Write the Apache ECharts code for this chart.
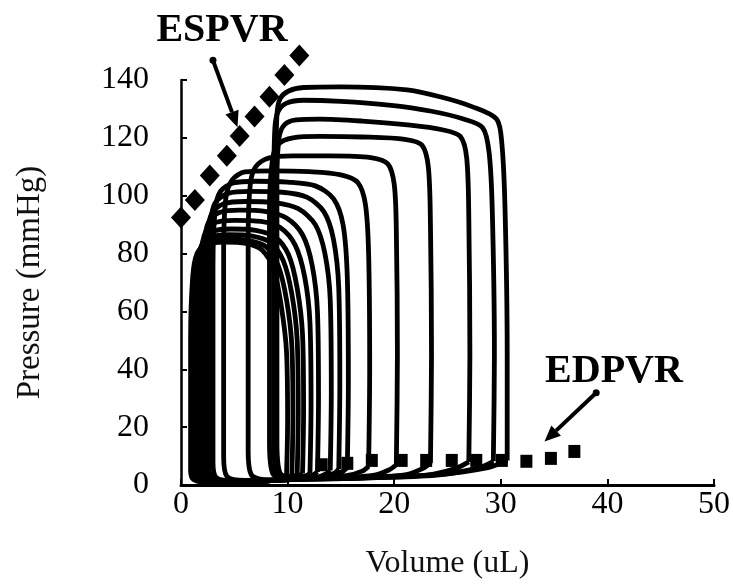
<!DOCTYPE html>
<html>
<head>
<meta charset="utf-8">
<script src="https://cdn.jsdelivr.net/npm/echarts@6/dist/echarts.min.js"></script>
<style>
  html, body { margin: 0; padding: 0; background: #fff; }
  #chart { width: 733px; height: 585px; }
</style>
</head>
<body>
<div id="chart"></div>
<script>
// Pressure-volume loops during preload reduction, [volume uL, pressure mmHg]
const loop1 = [[30.6,8.5],[30.6,45],[30.4,95],[30.1,118],[29.6,126.5],[27.3,130.8],[24.3,134.2],[21.2,136.6],[15,137.6],[11.5,137.4],[10.1,136.2],[9.3,133.5],[9.0,128],[8.9,105],[8.9,55],[8.9,18],[9.2,4.5],[10.8,2.2],[17,2.6],[24,3.6],[28.8,6],[30.6,8.5]];
const loop2 = [[29.3,8.2],[29.4,45],[29.2,95],[28.9,115],[28.3,123.5],[26.5,126.5],[23.5,129.2],[19.5,131.3],[15,132.6],[11.5,133],[9.9,132],[9.1,129],[8.8,123],[8.7,100],[8.7,50],[8.7,15],[9.0,4],[10.6,2],[17,2.4],[24,3.4],[28,6],[29.3,8.2]];
const loop3 = [[27.0,8],[27.1,45],[27.0,92],[26.8,113],[26.2,120.5],[24.5,122.8],[21.5,124.4],[17,125.8],[13,126.5],[10.8,126.2],[9.7,124.5],[9.2,120],[9.0,105],[9.0,55],[9.0,15],[9.3,4],[11,2],[17,2.4],[23,3.4],[25.8,5.8],[27.0,8]];
const loop4 = [[23.4,7.5],[23.5,45],[23.4,90],[23.2,110],[22.6,117.5],[21,119.5],[17,120.3],[13,120.5],[10.5,120],[9.2,118],[8.6,113],[8.3,95],[8.3,50],[8.3,15],[8.6,4],[10.2,2],[16,2.4],[21,3.5],[22.6,5.6],[23.4,7.5]];
const loop5 = [[20.2,7],[20.3,45],[20.2,88],[20.0,104],[19.4,111],[17.8,113.2],[14,113.8],[10.5,113.8],[8.2,113],[7.0,110],[6.5,104],[6.3,85],[6.3,40],[6.3,12],[6.6,3.5],[8.2,1.8],[13,2.2],[18,3.3],[19.5,5.2],[20.2,7]];
const loop6 = [[17.6,6.5],[17.7,40],[17.6,80],[17.3,97],[16.6,104.5],[15,107.2],[12,108.3],[8.5,108.6],[6,108.2],[4.8,105.5],[4.2,99],[4.0,80],[4.0,35],[4.0,10],[4.3,3],[6,1.6],[11,2],[15.5,3.2],[17,4.8],[17.6,6.5]];
const loop7 = [[15.6,6],[15.7,35],[15.6,72],[15.2,90],[14.3,99],[12.6,103.4],[10,104.7],[7,105],[4.9,104.4],[3.7,101.5],[3.2,95],[3.0,75],[3.0,30],[3.0,8],[3.3,2.6],[5,1.5],[10,1.8],[14,3],[15.1,4.5],[15.6,6]];
const loop8 = [[14.8,5.5],[14.9,35],[14.8,68],[14.3,85],[13.4,94.5],[11.8,99.5],[9.5,101.2],[6.5,101.5],[4.4,100.8],[3.2,97.5],[2.8,91],[2.6,70],[2.6,30],[2.6,8],[2.9,2.5],[4.5,1.4],[9.5,1.7],[13.4,2.8],[14.4,4.1],[14.8,5.5]];
const loop9 = [[14.0,5.0],[14.1,32],[14.0,64],[13.5,80],[12.6,90],[11,95.5],[8.8,97.6],[6,98],[4,97.2],[2.9,94],[2.5,87],[2.3,65],[2.3,28],[2.3,7],[2.6,2.4],[4.2,1.3],[9,1.6],[12.7,2.6],[13.6,3.8],[14.0,5.0]];
const loop10 = [[12.8,4.5],[12.9,30],[12.8,60],[12.3,76],[11.4,86.5],[9.9,92.3],[8,94.5],[5.5,95],[3.6,94.2],[2.6,91],[2.2,84],[2.0,62],[2.0,26],[2.0,7],[2.3,2.3],[3.9,1.2],[8.5,1.5],[11.6,2.5],[12.4,3.5],[12.8,4.5]];
const loop11 = [[12.1,4.2],[12.2,28],[12.1,56],[11.6,72],[10.7,83],[9.3,89],[7.5,91.1],[5,91.5],[3.2,90.7],[2.3,87.5],[1.9,80],[1.7,58],[1.7,24],[1.7,6],[2.0,2.2],[3.6,1.1],[8,1.4],[11,2.4],[11.8,3.3],[12.1,4.2]];
const loop12 = [[11.4,4.0],[11.5,26],[11.4,52],[10.9,68],[10.1,79.5],[8.8,85.8],[7,88],[4.7,88.5],[3,87.7],[2.1,84.5],[1.7,77],[1.5,55],[1.5,22],[1.5,6],[1.8,2.1],[3.4,1.0],[7.5,1.3],[10.4,2.3],[11.1,3.2],[11.4,4.0]];
const loop13 = [[10.9,3.8],[11.0,25],[10.9,50],[10.4,66],[9.6,77.5],[8.4,83.8],[6.7,86],[4.5,86.5],[2.8,85.7],[1.9,82.5],[1.5,75],[1.3,53],[1.3,20],[1.3,5.5],[1.6,2.0],[3.2,0.9],[7.2,1.2],[10,2.2],[10.6,3.0],[10.9,3.8]];
const loop14 = [[10.4,3.5],[10.5,24],[10.4,48],[9.9,64],[9.1,76],[8,82.3],[6.4,84.5],[4.3,85],[2.6,84.2],[1.7,81],[1.3,73],[1.1,52],[1.1,20],[1.1,5],[1.4,1.9],[3,0.9],[7,1.1],[9.5,2.0],[10.1,2.8],[10.4,3.5]];
const loop15 = [[9.9,3.2],[10.0,22],[9.9,46],[9.4,62],[8.7,74.5],[7.6,81.2],[6.1,83.5],[4.1,84],[2.4,83.2],[1.5,80],[1.1,72],[0.9,50],[0.9,18],[0.9,5],[1.2,1.8],[2.8,0.8],[6.6,1.0],[9.0,1.9],[9.6,2.7],[9.9,3.2]];

// End-systolic pressure-volume relation points
const espvr = [[0,92.5],[1.3,98.5],[2.7,107],[4.3,113.8],[5.5,120.6],[6.9,127.4],[8.3,134.2],[9.7,141.7],[11.1,148.5]];
// End-diastolic pressure-volume relation points
const edpvr = [[13.2,7],[15.6,7.5],[17.9,8.5],[20.7,8.5],[23.0,8.5],[25.4,8.5],[27.7,8.5],[30.1,8.5],[32.4,8.2],[34.7,9.2],[36.9,11.6]];

// Annotation arrows (tail, head) in data units
const espvrArrow = [[3.0,146.8],[5.3,123.7]];
const edpvrArrow = [[38.95,31.9],[34.1,15.0]];

// Axis ticks
const volumeTicks = [0, 10, 20, 30, 40, 50];
const pressureTicks = [0, 20, 40, 60, 80, 100, 120, 140];

const loops = [loop1, loop2, loop3, loop4, loop5, loop6, loop7, loop8,
               loop9, loop10, loop11, loop12, loop13, loop14, loop15];

const serif = '"Liberation Serif", "Times New Roman", serif';

const loopSeries = loops.map(function (pts) {
  return {
    type: 'line',
    data: pts,
    smooth: 0.3,
    showSymbol: false,
    silent: true,
    clip: false,
    lineStyle: { color: '#000', width: 4.8 },
    z: 2
  };
});

const option = {
  animation: false,
  backgroundColor: '#fff',
  grid: { left: 181, right: 18, top: 80, bottom: 93, containLabel: false },
  xAxis: {
    type: 'value',
    min: volumeTicks[0],
    max: volumeTicks[volumeTicks.length - 1],
    interval: 10,
    name: 'Volume (uL)',
    nameLocation: 'middle',
    nameGap: 63,
    nameTextStyle: { fontFamily: serif, fontSize: 32, color: '#111' },
    axisLine: { show: true, lineStyle: { color: '#000', width: 3 } },
    axisTick: { show: true, inside: true, length: 6, lineStyle: { color: '#000', width: 2 } },
    axisLabel: { margin: 4, fontFamily: serif, fontSize: 32, color: '#000' },
    splitLine: { show: false }
  },
  yAxis: {
    type: 'value',
    min: pressureTicks[0],
    max: pressureTicks[pressureTicks.length - 1],
    interval: 20,
    name: 'Pressure (mmHg)',
    nameLocation: 'middle',
    nameGap: 134,
    nameRotate: 90,
    nameTextStyle: { fontFamily: serif, fontSize: 33, color: '#111' },
    axisLine: { show: true, lineStyle: { color: '#000', width: 2.5 } },
    axisTick: { show: true, inside: true, length: 6, lineStyle: { color: '#000', width: 2 } },
    axisLabel: { margin: 32, fontFamily: serif, fontSize: 32, color: '#000' },
    splitLine: { show: false }
  },
  series: loopSeries.concat([
    {
      type: 'scatter',
      data: espvr,
      symbol: 'diamond',
      symbolSize: [20, 22],
      clip: false,
      silent: true,
      itemStyle: { color: '#000', opacity: 1 },
      z: 5
    },
    {
      type: 'scatter',
      data: edpvr,
      symbol: 'rect',
      symbolSize: [12, 13],
      clip: false,
      silent: true,
      itemStyle: { color: '#000', opacity: 1 },
      z: 5
    }
  ])
};

const chart = echarts.init(document.getElementById('chart'), null, { renderer: 'canvas' });
chart.setOption(option);

// Arrow with a round tail and a filled head, placed through the axis scales
function arrowGraphics(pair) {
  const a = chart.convertToPixel({ xAxisIndex: 0, yAxisIndex: 0 }, pair[0]);
  const b = chart.convertToPixel({ xAxisIndex: 0, yAxisIndex: 0 }, pair[1]);
  const dx = b[0] - a[0], dy = b[1] - a[1];
  const len = Math.sqrt(dx * dx + dy * dy);
  const ux = dx / len, uy = dy / len;
  const headLen = 16, headHalf = 7;
  const bx = b[0] - ux * headLen, by = b[1] - uy * headLen;
  return [
    { type: 'line', z: 10, silent: true,
      shape: { x1: a[0], y1: a[1], x2: bx, y2: by },
      style: { stroke: '#000', lineWidth: 4 } },
    { type: 'polygon', z: 10, silent: true,
      shape: { points: [[b[0], b[1]],
                        [bx - uy * headHalf, by + ux * headHalf],
                        [bx + uy * headHalf, by - ux * headHalf]] },
      style: { fill: '#000' } },
    { type: 'circle', z: 10, silent: true,
      shape: { cx: a[0], cy: a[1], r: 3.5 },
      style: { fill: '#000' } }
  ];
}

chart.setOption({
  graphic: [
    {
      type: 'text', x: 222, y: 31, silent: true,
      style: { text: 'ESPVR', fontFamily: serif, fontSize: 40, fontWeight: 'bold',
               fill: '#000', align: 'center', verticalAlign: 'middle' }
    },
    {
      type: 'text', x: 614, y: 372, silent: true,
      style: { text: 'EDPVR', fontFamily: serif, fontSize: 40, fontWeight: 'bold',
               fill: '#000', align: 'center', verticalAlign: 'middle' }
    }
  ].concat(arrowGraphics(espvrArrow), arrowGraphics(edpvrArrow))
});
</script>
</body>
</html>
